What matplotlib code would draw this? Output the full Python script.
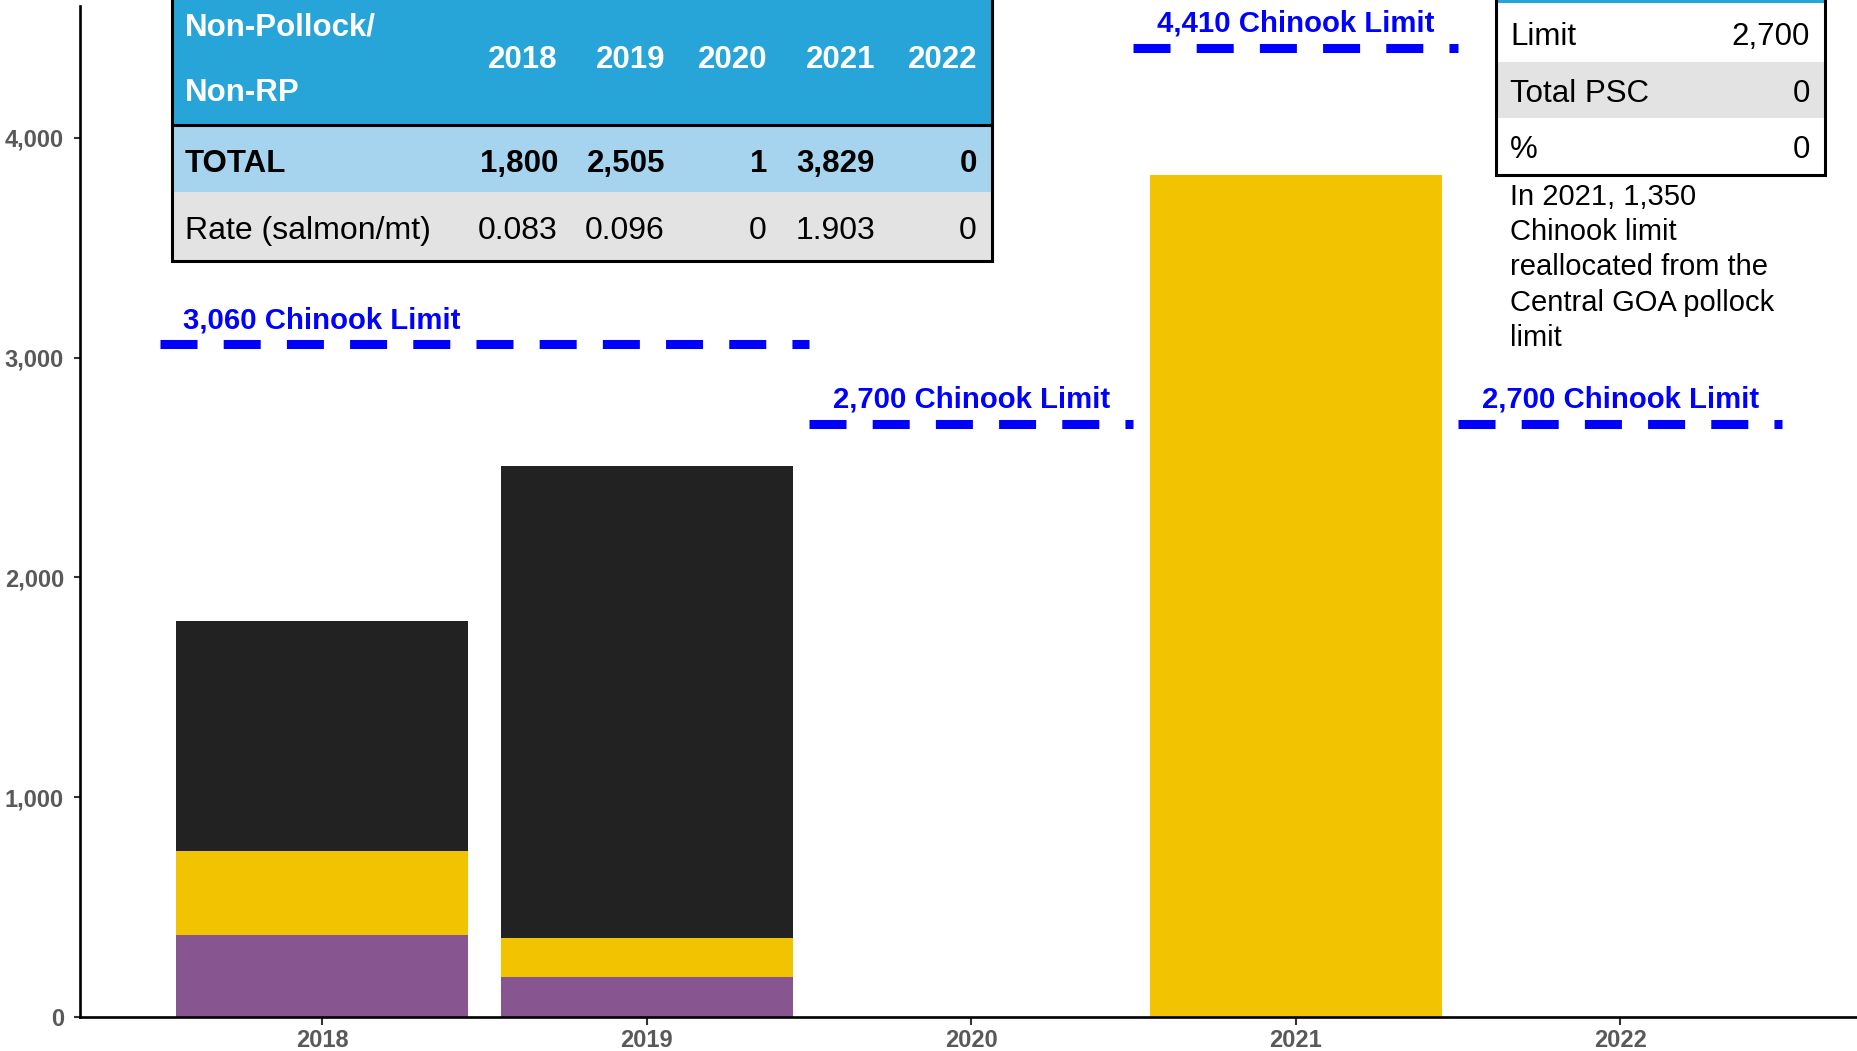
import matplotlib
matplotlib.use("Agg")
import matplotlib.pyplot as plt
from matplotlib.patches import Rectangle

plt.rcParams['font.family'] = ['Liberation Sans', 'DejaVu Sans']

# Chinook PSC, Non-Pollock / Non-RP
years = ['2018', '2019', '2020', '2021', '2022']
purple_seg = [375, 180, 0, 0, 0]
yellow_seg = [380, 180, 1, 3829, 0]
black_seg = [1045, 2145, 0, 0, 0]

totals = [1800, 2505, 1, 3829, 0]
rates = ['0.083', '0.096', '0', '1.903', '0']

limit_values = [3060, 2700, 4410, 2700]
limit_starts = [-0.5, 1.5, 2.5, 3.5]
limit_ends = [1.5, 2.5, 3.5, 4.5]
limit_label_x = [0, 2, 3, 4]

side_rows = ['Limit', 'Total PSC', '%']
side_vals = ['2,700', '0', '0']
note_lines = ['In 2021, 1,350', 'Chinook limit', 'reallocated from the',
              'Central GOA pollock', 'limit']

PURPLE = '#87558F'
YELLOW = '#F2C300'
BLACK = '#222222'
LIMIT_BLUE = '#0000FF'
HEAD_BLUE = '#27A5D8'
LIGHT_BLUE = '#A6D4EE'
LIGHT_GRAY = '#E3E3E3'
TICK_GRAY = '#595959'

W, H = 1858, 1051
fig = plt.figure(figsize=(W / 100, H / 100), dpi=100)

ax = fig.add_axes([80 / W, 34 / H, 1 - 80 / W, 1011 / H])
x = list(range(len(years)))
bottom2 = [p + y for p, y in zip(purple_seg, yellow_seg)]
ax.bar(x, purple_seg, width=0.9, color=PURPLE, edgecolor='none')
ax.bar(x, yellow_seg, width=0.9, bottom=purple_seg, color=YELLOW, edgecolor='none')
ax.bar(x, black_seg, width=0.9, bottom=bottom2, color=BLACK, edgecolor='none')

for v, s, e, lx in zip(limit_values, limit_starts, limit_ends, limit_label_x):
    ax.plot([s, e], [v, v], color=LIMIT_BLUE, lw=6.5, dashes=(4.1, 2.9), zorder=3)
    ax.annotate(f"{v:,} Chinook Limit", xy=(lx, v), xytext=(0, 11.5),
                textcoords='offset points', ha='center', va='baseline',
                color=LIMIT_BLUE, fontweight='bold', fontsize=21.2)

ax.set_xlim(-0.746, 4.733)
ax.set_ylim(0, 4600)
ax.set_xticks(x)
ax.set_xticklabels(years)
ax.set_yticks([0, 1000, 2000, 3000, 4000])
ax.set_yticklabels([f"{t:,}" for t in [0, 1000, 2000, 3000, 4000]])
for lab in ax.get_xticklabels() + ax.get_yticklabels():
    lab.set_fontweight('bold')
    lab.set_color(TICK_GRAY)
ax.tick_params(axis='both', labelsize=17, color='#333333', width=1.5)
ax.tick_params(axis='y', length=4.5, pad=7)
ax.tick_params(axis='x', length=5.5, pad=3)
for side in ['top', 'right']:
    ax.spines[side].set_visible(False)
for side in ['left', 'bottom']:
    ax.spines[side].set_linewidth(1.9)
    ax.spines[side].set_color('black')

# overlay in pixel coordinates for the tables and note
ov = fig.add_axes([0, 0, 1, 1], zorder=5)
ov.set_xlim(0, W)
ov.set_ylim(H, 0)
ov.axis('off')

# left summary table
tx0, tx1 = 172, 992
ov.add_patch(Rectangle((tx0, -5), tx1 - tx0, 130, facecolor=HEAD_BLUE, edgecolor='none'))
ov.add_patch(Rectangle((tx0, 125), tx1 - tx0, 67, facecolor=LIGHT_BLUE, edgecolor='none'))
ov.add_patch(Rectangle((tx0, 192), tx1 - tx0, 69, facecolor=LIGHT_GRAY, edgecolor='none'))
ov.plot([tx0, tx1], [125, 125], color='black', lw=2.2)
ov.add_patch(Rectangle((tx0, -5), tx1 - tx0, 266, facecolor='none', edgecolor='black', lw=2.2))

fs = 22.5
ov.text(185, 36, 'Non-Pollock/', color='white', fontweight='bold', fontsize=fs, va='baseline')
ov.text(185, 101, 'Non-RP', color='white', fontweight='bold', fontsize=fs, va='baseline')
ov.text(185, 172, 'TOTAL', color='black', fontweight='bold', fontsize=fs, va='baseline')
ov.text(185, 239, 'Rate (salmon/mt)', color='black', fontsize=23, va='baseline')
col_right = [558, 665, 767, 875, 977]
for cx, yr, tot, rt in zip(col_right, years, totals, rates):
    ov.text(cx, 68, yr, color='white', fontweight='bold', fontsize=fs, ha='right', va='baseline')
    ov.text(cx, 172, f"{tot:,}", color='black', fontweight='bold', fontsize=fs, ha='right', va='baseline')
    ov.text(cx, 239, rt, color='black', fontsize=23, ha='right', va='baseline')

# right-hand 2022 box
rx0, rx1 = 1496, 1825
ov.add_patch(Rectangle((rx0, -5), rx1 - rx0, 8, facecolor=HEAD_BLUE, edgecolor='none'))
ov.add_patch(Rectangle((rx0, 62), rx1 - rx0, 56, facecolor=LIGHT_GRAY, edgecolor='none'))
ov.add_patch(Rectangle((rx0, -5), rx1 - rx0, 180, facecolor='none', edgecolor='black', lw=2.2))
for i, (name, val) in enumerate(zip(side_rows, side_vals)):
    by = [45, 102, 158][i]
    ov.text(1510, by, name, color='black', fontsize=22.5, va='baseline')
    ov.text(1810, by, val, color='black', fontsize=22.5, ha='right', va='baseline')

for i, line in enumerate(note_lines):
    ov.text(1510, 205 + i * 35.2, line, color='black', fontsize=21, va='baseline')

fig.savefig('out.png', dpi=100)
